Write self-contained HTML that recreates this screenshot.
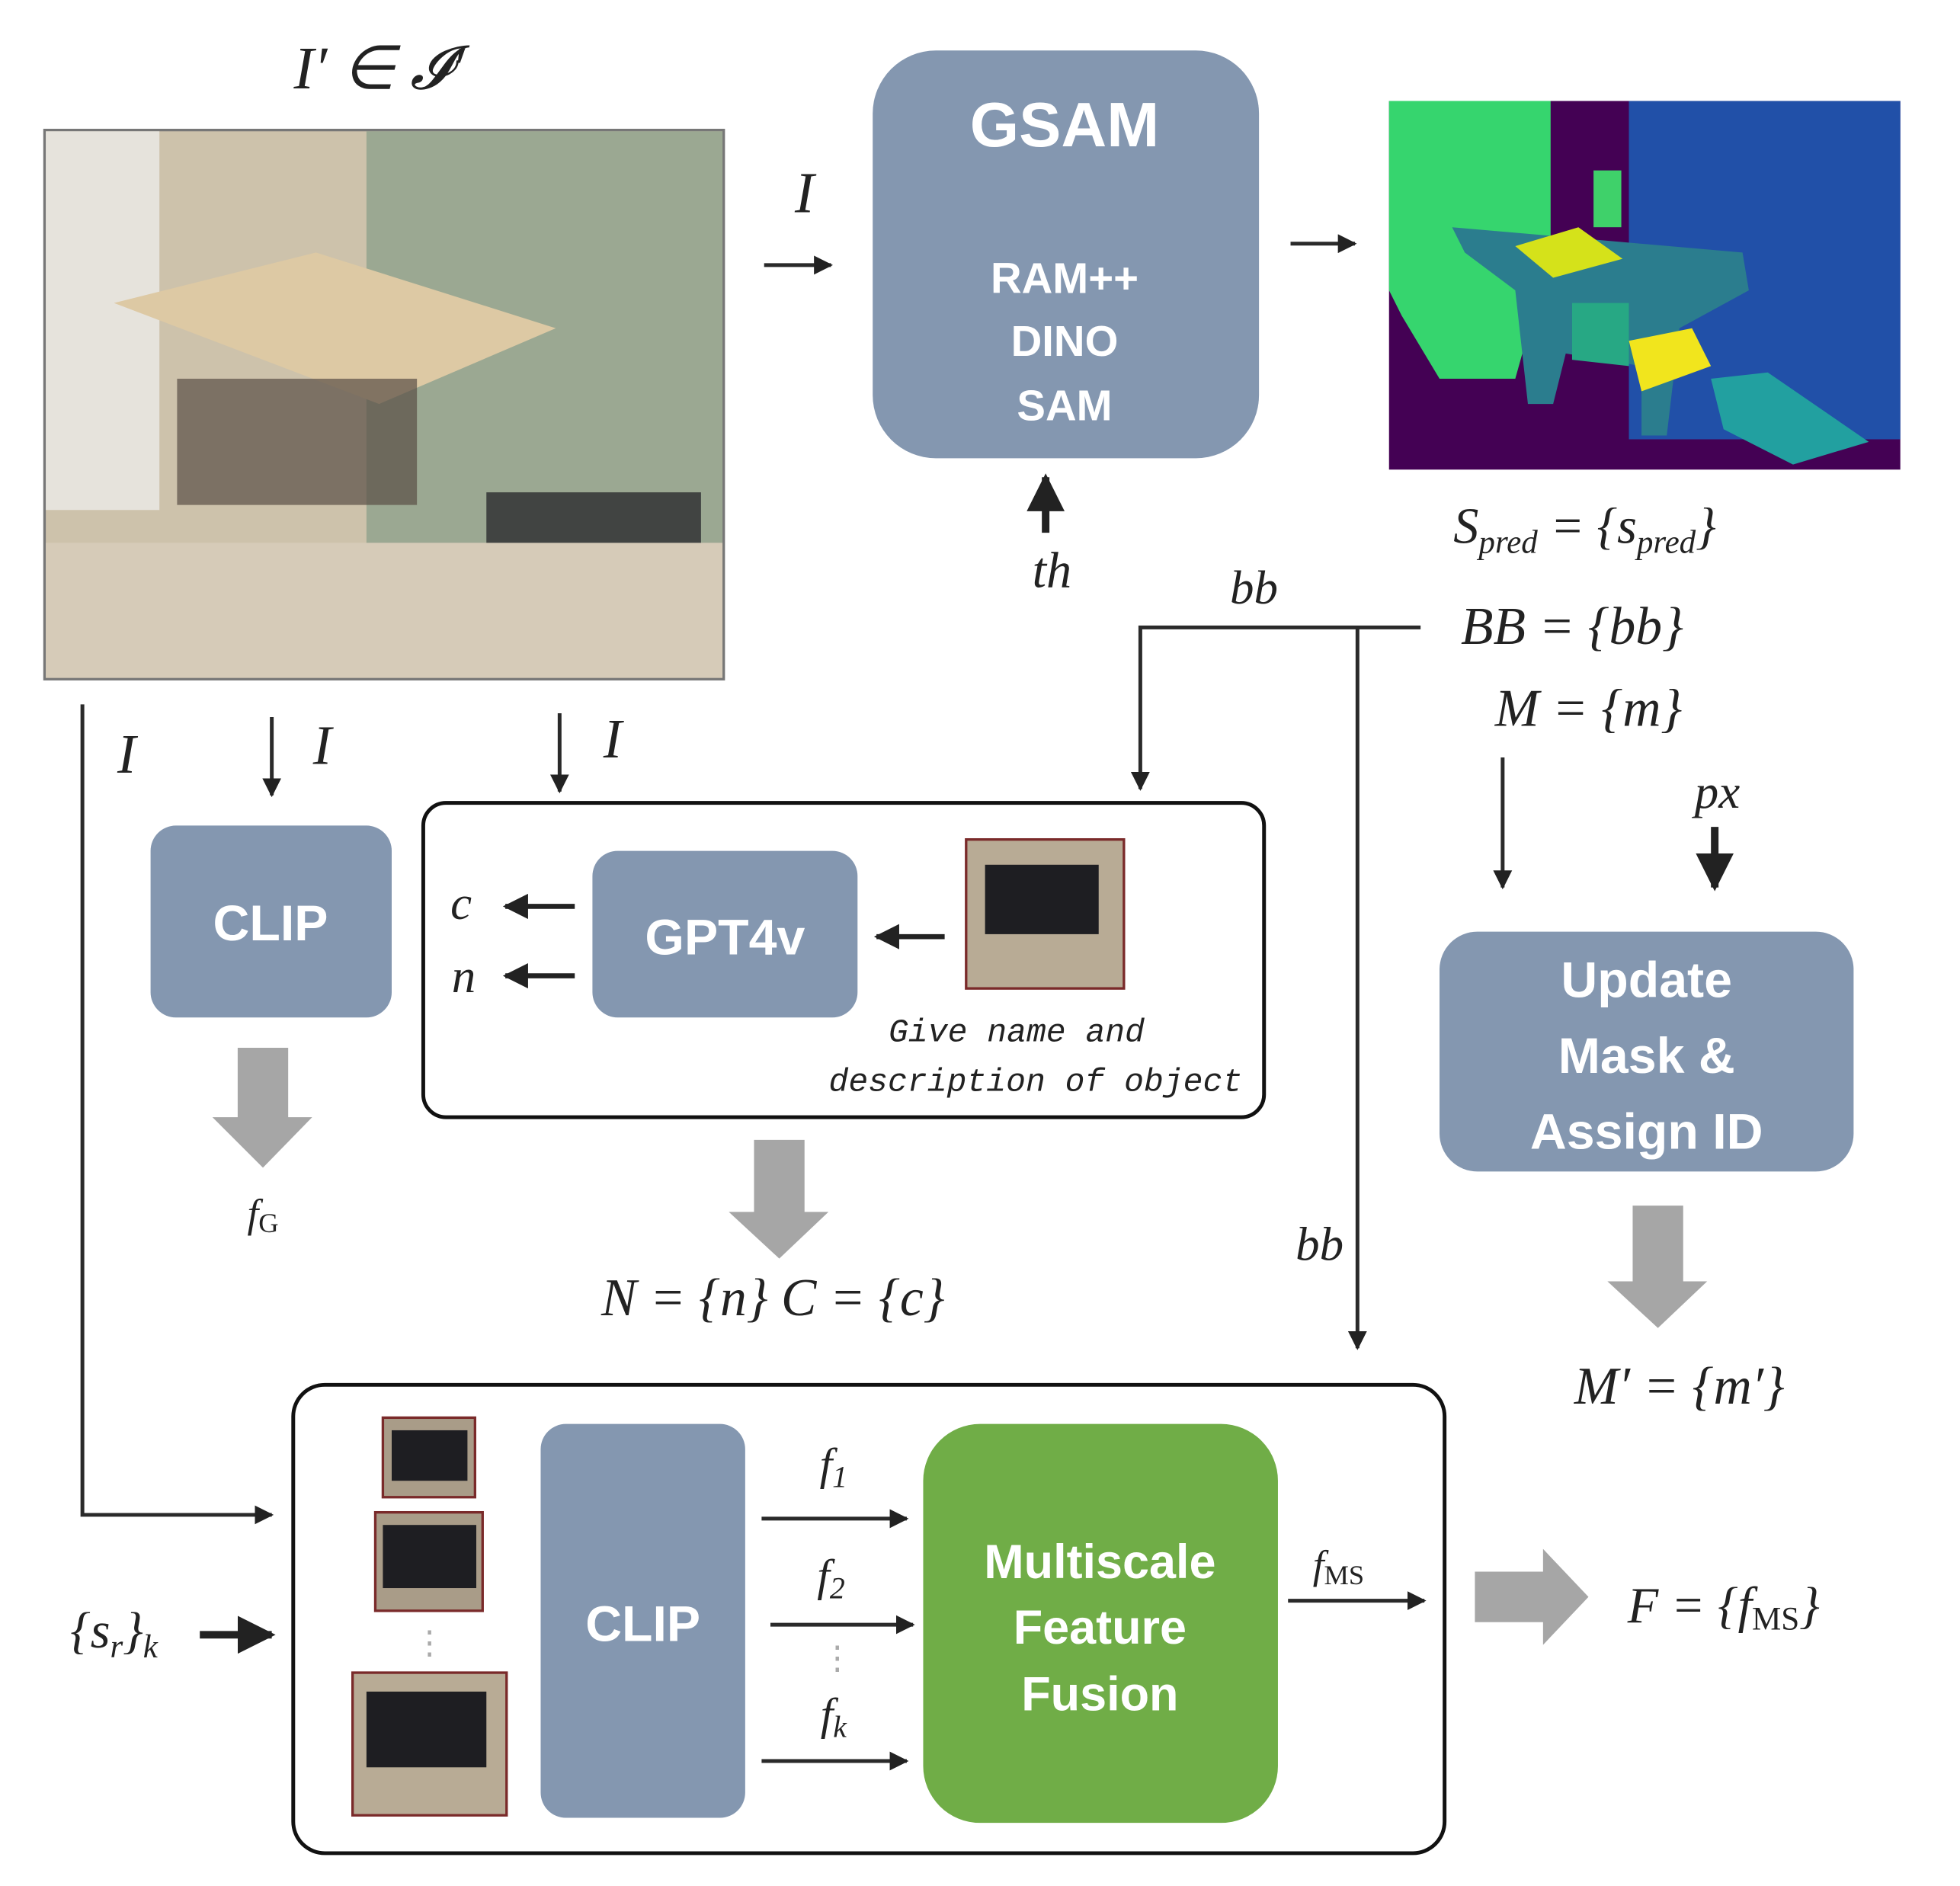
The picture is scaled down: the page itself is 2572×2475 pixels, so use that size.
<!DOCTYPE html>
<html><head><meta charset="utf-8"><style>html,body{margin:0;padding:0;background:#fff}svg{display:block}</style></head>
<body>
<svg width="2572" height="2475" viewBox="0 0 1552 1494" xmlns="http://www.w3.org/2000/svg">
<defs>
<marker id="a" viewBox="0 0 10 10" refX="9" refY="5" markerWidth="5" markerHeight="5" orient="auto"><path d="M0,0 L10,5 L0,10 z" fill="#222"/></marker>
</defs>
<style>
.m{font-family:"Liberation Serif",serif;font-style:italic;fill:#222}
.b{font-family:"Liberation Sans",sans-serif;font-weight:bold;fill:#fff;text-anchor:middle}
.l{stroke:#2a2a2a;stroke-width:3;fill:none}
</style>
<text x="300" y="70" class="m" font-size="48" text-anchor="middle">I′ ∈ 𝓘′</text>
<rect x="35" y="103" width="538" height="435" fill="#cdc2ab" stroke="#777" stroke-width="2"/>
<rect x="36" y="104" width="90" height="300" fill="#e6e3dc"/>
<rect x="290" y="104" width="282" height="330" fill="#9ba892"/>
<polygon points="90,240 250,200 440,260 300,320" fill="#ddc9a4"/>
<rect x="140" y="300" width="190" height="100" fill="#5a4e46" opacity="0.7"/>
<rect x="385" y="390" width="170" height="100" fill="#2a2a2e" opacity="0.8"/>
<rect x="36" y="430" width="536" height="107" fill="#d6cbb8"/>
<text x="637" y="168" class="m" font-size="46" text-anchor="middle">I</text>
<line x1="605" y1="210" x2="658" y2="210" class="l" marker-end="url(#a)"/>
<rect x="691" y="40" width="306" height="323" rx="50" fill="#8497b0"/>
<text x="843" y="116" class="b" font-size="50">GSAM</text>
<text x="843" y="232" class="b" font-size="34">RAM++</text>
<text x="843" y="282" class="b" font-size="34">DINO</text>
<text x="843" y="333" class="b" font-size="34">SAM</text>
<line x1="828" y1="422" x2="828" y2="378" stroke="#222" stroke-width="6" marker-end="url(#a)"/>
<text x="833" y="465" class="m" font-size="40" text-anchor="middle">th</text>
<line x1="1022" y1="193" x2="1073" y2="193" class="l" marker-end="url(#a)"/>
<rect x="1100" y="80" width="405" height="292" fill="#440154"/>
<rect x="1290" y="80" width="215" height="268" fill="#2150a8"/>
<path d="M1100,80 L1228,80 L1228,200 L1200,300 L1140,300 L1110,250 L1100,230z" fill="#36d56e"/>
<path d="M1150,180 L1380,200 L1385,230 L1330,260 L1320,345 L1300,345 L1300,290 L1240,280 L1230,320 L1210,320 L1200,230 L1160,200z" fill="#2b7d8e"/>
<polygon points="1200,195 1250,180 1285,205 1230,220" fill="#d5e21a"/>
<rect x="1262" y="135" width="22" height="45" fill="#3fd16a"/>
<polygon points="1290,270 1340,260 1355,290 1300,310" fill="#f1e51d"/>
<polygon points="1245,240 1290,240 1290,290 1245,285" fill="#27a884"/>
<path d="M1355,300 L1400,295 L1480,350 L1420,368 L1365,340z" fill="#22a0a0"/>
<text x="1255" y="430" class="m" font-size="40" text-anchor="middle">S<tspan font-size="26" dy="8">pred</tspan><tspan dy="-8"> = {s</tspan><tspan font-size="26" dy="8">pred</tspan><tspan dy="-8">}</tspan></text>
<text x="1245" y="510" class="m" font-size="42" text-anchor="middle">BB = {bb}</text>
<text x="1258" y="575" class="m" font-size="42" text-anchor="middle">M = {m}</text>
<text x="993" y="478" class="m" font-size="38" text-anchor="middle">bb</text>
<polyline points="1125,497 903,497 903,625" class="l" marker-end="url(#a)"/>
<line x1="1075" y1="497" x2="1075" y2="1068" class="l" marker-end="url(#a)"/>
<text x="1045" y="998" class="m" font-size="38" text-anchor="middle">bb</text>
<line x1="1190" y1="600" x2="1190" y2="703" class="l" marker-end="url(#a)"/>
<text x="1360" y="640" class="m" font-size="38" text-anchor="middle">px</text>
<line x1="1358" y1="655" x2="1358" y2="703" stroke="#222" stroke-width="6" marker-end="url(#a)"/>
<rect x="1140" y="738" width="328" height="190" rx="30" fill="#8497b0"/>
<text x="1304" y="790" class="b" font-size="40">Update</text>
<text x="1304" y="850" class="b" font-size="40">Mask &amp;</text>
<text x="1304" y="910" class="b" font-size="40">Assign ID</text>
<path d="M1293,955 H1333 V1015 H1352 L1313,1052 L1273,1015 H1293z" fill="#a6a6a6"/>
<text x="1330" y="1112" class="m" font-size="42" text-anchor="middle">M′ = {m′}</text>
<polyline points="65,558 65,1200 215,1200" class="l" marker-end="url(#a)"/>
<text x="100" y="612" class="m" font-size="44" text-anchor="middle">I</text>
<line x1="215" y1="568" x2="215" y2="630" class="l" marker-end="url(#a)"/>
<text x="255" y="605" class="m" font-size="44" text-anchor="middle">I</text>
<rect x="119" y="654" width="191" height="152" rx="20" fill="#8497b0"/>
<text x="214" y="745" class="b" font-size="40">CLIP</text>
<path d="M188,830 H228 V885 H247 L208,925 L168,885 H188z" fill="#a6a6a6"/>
<text x="208" y="972" class="m" font-size="32" text-anchor="middle">f<tspan font-size="22" font-style="normal" dy="4">G</tspan></text>
<line x1="443" y1="565" x2="443" y2="627" class="l" marker-end="url(#a)"/>
<text x="485" y="600" class="m" font-size="44" text-anchor="middle">I</text>
<rect x="335" y="636" width="666" height="249" rx="18" fill="none" stroke="#111" stroke-width="3"/>
<rect x="469" y="674" width="210" height="132" rx="20" fill="#8497b0"/>
<text x="574" y="756" class="b" font-size="40">GPT4v</text>
<text x="365" y="728" class="m" font-size="38" text-anchor="middle">c</text>
<text x="367" y="786" class="m" font-size="38" text-anchor="middle">n</text>
<line x1="455" y1="718" x2="400" y2="718" stroke="#222" stroke-width="4" marker-end="url(#a)"/>
<line x1="455" y1="773" x2="400" y2="773" stroke="#222" stroke-width="4" marker-end="url(#a)"/>
<line x1="748" y1="742" x2="694" y2="742" stroke="#222" stroke-width="4" marker-end="url(#a)"/>
<rect x="765" y="665" width="125" height="118" fill="#b8ab95" stroke="#7a2a2a" stroke-width="2"/>
<rect x="780" y="685" width="90" height="55" fill="#1e1e22"/>
<text x="805" y="825" class="m" font-size="26" text-anchor="middle" style="font-family:'Liberation Mono',monospace">Give name and</text>
<text x="820" y="864" class="m" font-size="26" text-anchor="middle" style="font-family:'Liberation Mono',monospace">description of object</text>
<path d="M597,903 H637 V960 H656 L617,997 L577,960 H597z" fill="#a6a6a6"/>
<text x="612" y="1042" class="m" font-size="42" text-anchor="middle">N = {n}  C = {c}</text>
<rect x="232" y="1097" width="912" height="371" rx="25" fill="none" stroke="#111" stroke-width="3"/>
<rect x="303" y="1123" width="73" height="63" fill="#a99c88" stroke="#7a2a2a" stroke-width="2"/>
<rect x="310" y="1133" width="60" height="40" fill="#1e1e22"/>
<rect x="297" y="1198" width="85" height="78" fill="#a99c88" stroke="#7a2a2a" stroke-width="2"/>
<rect x="303" y="1208" width="74" height="50" fill="#1e1e22"/>
<rect x="279" y="1325" width="122" height="113" fill="#b8ab95" stroke="#7a2a2a" stroke-width="2"/>
<rect x="290" y="1340" width="95" height="60" fill="#1e1e22"/>
<text x="340" y="1310" font-size="26" fill="#aaa" text-anchor="middle" font-family="Liberation Sans">⋮</text>
<text x="90" y="1305" class="m" font-size="40" text-anchor="middle">{s<tspan font-size="26" dy="8">r</tspan><tspan dy="-8">}</tspan><tspan font-size="26" dy="8">k</tspan></text>
<line x1="158" y1="1295" x2="215" y2="1295" stroke="#222" stroke-width="6" marker-end="url(#a)"/>
<rect x="428" y="1128" width="162" height="312" rx="20" fill="#8497b0"/>
<text x="509" y="1300" class="b" font-size="40">CLIP</text>
<line x1="603" y1="1203" x2="718" y2="1203" class="l" marker-end="url(#a)"/>
<line x1="610" y1="1287" x2="723" y2="1287" class="l" marker-end="url(#a)"/>
<line x1="603" y1="1395" x2="718" y2="1395" class="l" marker-end="url(#a)"/>
<text x="660" y="1172" class="m" font-size="36" text-anchor="middle">f<tspan font-size="24" dy="6">1</tspan></text>
<text x="658" y="1260" class="m" font-size="36" text-anchor="middle">f<tspan font-size="24" dy="6">2</tspan></text>
<text x="660" y="1370" class="m" font-size="36" text-anchor="middle">f<tspan font-size="24" dy="6">k</tspan></text>
<text x="663" y="1322" font-size="26" fill="#aaa" text-anchor="middle" font-family="Liberation Sans">⋮</text>
<rect x="731" y="1128" width="281" height="316" rx="45" fill="#70ad47"/>
<text x="871" y="1250" class="b" font-size="38">Multiscale</text>
<text x="871" y="1302" class="b" font-size="38">Feature</text>
<text x="871" y="1355" class="b" font-size="38">Fusion</text>
<text x="1060" y="1250" class="m" font-size="32" text-anchor="middle">f<tspan font-size="22" font-style="normal" dy="5">MS</tspan></text>
<line x1="1020" y1="1268" x2="1128" y2="1268" class="l" marker-end="url(#a)"/>
<path d="M1168,1245 H1222 V1227 L1258,1265 L1222,1303 V1285 H1168z" fill="#a6a6a6"/>
<text x="1365" y="1285" class="m" font-size="40" text-anchor="middle">F = {f<tspan font-size="26" font-style="normal" dy="6">MS</tspan><tspan dy="-6">}</tspan></text>
</svg>
</body></html>
